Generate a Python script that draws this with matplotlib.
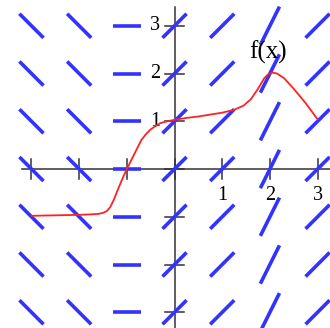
import numpy as np
import matplotlib.pyplot as plt

# slope field: slope at each column x (same for every row)
field_x = [-3, -2, -1, 0, 1, 2, 3]
field_slope = [-1, -1, 0, 1, 1, 2, 1]
field_y = [-3, -2, -1, 0, 1, 2, 3]

# the curve f(x)
fx = [-3.0, -2.5, -2.0, -1.75, -1.6, -1.5, -1.42, -1.35, -1.28, -1.2, -1.1,
      -1.0, -0.9, -0.8, -0.7, -0.6, -0.5, -0.4, -0.3, -0.15, 0.0, 0.25, 0.5,
      0.75, 1.0, 1.25, 1.45, 1.6, 1.75, 1.88, 1.97, 2.05, 2.15, 2.3, 2.5,
      2.75, 3.0]
fy = [-0.98, -0.97, -0.96, -0.95, -0.94, -0.92, -0.88, -0.8, -0.66, -0.46,
      -0.22, 0.0, 0.2, 0.4, 0.6, 0.73, 0.83, 0.9, 0.96, 1.0, 1.03, 1.07, 1.1,
      1.14, 1.18, 1.24, 1.33, 1.46, 1.68, 1.9, 1.99, 2.02, 2.0, 1.9, 1.68,
      1.38, 1.04]

ticks = [-3, -2, -1, 0, 1, 2, 3]
tick_labels = ["1", "2", "3"]

fig = plt.figure(figsize=(3.3, 3.28), dpi=100)
ax = fig.add_axes([0, 0, 1, 1])
ax.set_xlim(-3.66, 3.26)
ax.set_ylim(-3.33, 3.54)
ax.axis("off")

axis_col = "#333333"
ax.plot([-3.2, 3.3], [0, 0], color=axis_col, lw=1.1, zorder=1)
ax.plot([0, 0], [-3.4, 3.4], color=axis_col, lw=1.1, zorder=1)
for t in ticks:
    ax.plot([t, t], [-0.2, 0.2], color=axis_col, lw=1.1, zorder=1)
    ax.plot([-0.2, 0.2], [t, t], color=axis_col, lw=1.1, zorder=1)

for i, lab in enumerate(tick_labels):
    ax.text(i + 1, -0.36, lab, ha="center", va="top", fontsize=14.5,
            family="Liberation Serif")
    ax.text(-0.3, i + 1, lab, ha="right", va="center", fontsize=14.5,
            family="Liberation Serif")

# short segments of the slope field
for x, m in zip(field_x, field_slope):
    h = 0.3 / (1 + m * m) ** 0.25
    for y in field_y:
        ax.plot([x - h, x + h], [y - h * m, y + h * m], color="#3333ff",
                lw=2.6, solid_capstyle="butt", zorder=2)

ax.plot(fx, fy, color="#ff2222", lw=1.3, zorder=3)
ax.text(1.97, 2.45, "f(x)", ha="center", va="center", fontsize=18,
        family="Liberation Serif")

fig.savefig("out.png", dpi=100)
